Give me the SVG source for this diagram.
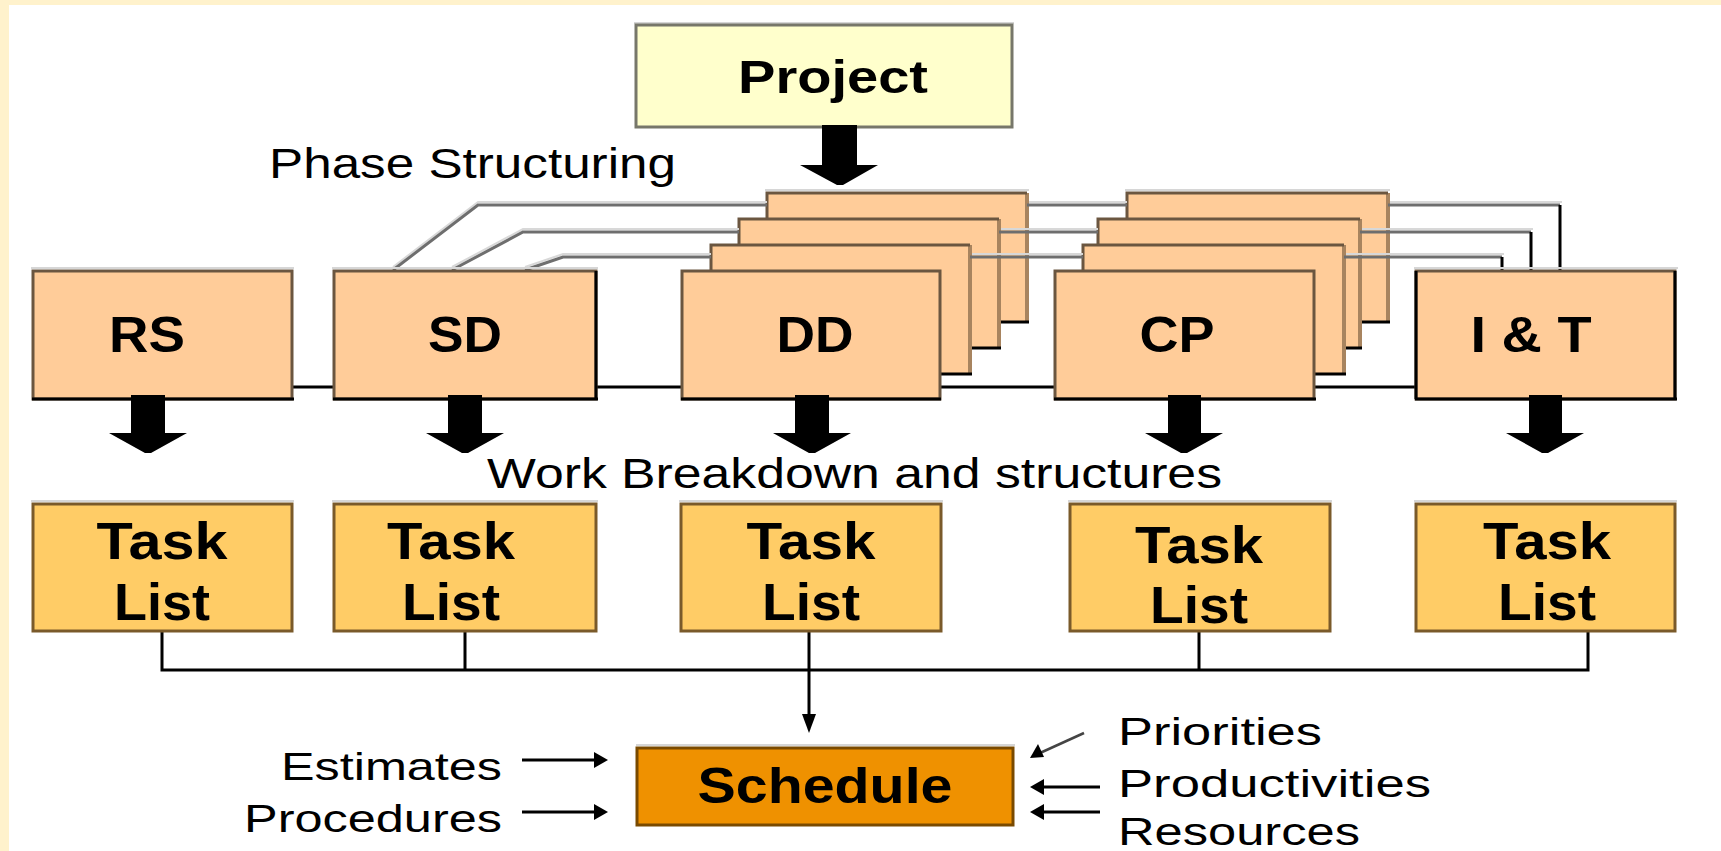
<svg xmlns="http://www.w3.org/2000/svg" width="1721" height="851" viewBox="0 0 1721 851">
<defs>
<style>
.t{font-family:"Liberation Sans",Arial,sans-serif;fill:#000}
.b{font-weight:bold}
.ph{fill:#FFCC99;stroke:#6B5640;stroke-width:3}
.bk{fill:#FFCC99;stroke:none}
.tl{fill:#FFCC66;stroke:#7A5A2A;stroke-width:3}
.hl{stroke:#d6d6d6;stroke-width:2;fill:none}
.gl{stroke:#6E6E6E;stroke-width:3;fill:none}
.gls{stroke:#d8d8d8;stroke-width:2;fill:none}
.bl{stroke:#000;stroke-width:3;fill:none}
.edgeT{stroke:#6B5640;stroke-width:3;fill:none}
.edgeR{stroke:#A8845F;stroke-width:4;fill:none}
.blk{fill:#000}
</style>
</defs>
<rect x="0" y="0" width="1721" height="851" fill="#fff"/>
<rect x="0" y="0" width="1721" height="5" fill="#FFF2CC"/>
<rect x="0" y="0" width="9" height="851" fill="#FFF2CC"/>

<g id="project">
<line class="hl" x1="634" y1="23" x2="1014" y2="23"/>
<rect x="636" y="25" width="376" height="102" fill="#FFFFCC" stroke="#77776A" stroke-width="3"/>
<text class="t b" x="833" y="93" font-size="46" text-anchor="middle" textLength="190" lengthAdjust="spacingAndGlyphs">Project</text>
<polygon class="blk" points="822,125 857,125 857,165 878,165 843,185 837,185 800,165 822,165"/>
</g>

<text id="phase-label" class="t" x="269" y="178" font-size="42" textLength="407" lengthAdjust="spacingAndGlyphs">Phase Structuring</text>

<g id="dd-stack">
<g id="dd-l3">
<line class="hl" x1="765" y1="190" x2="1029" y2="190"/>
<rect class="bk" x="767" y="193" width="260" height="129"/>
<path class="edgeR" d="M1027,193 V322"/>
<path class="edgeT" d="M767,322 V193 H1027"/>
<path class="bl" d="M767,322 H1029"/>
</g>
<g id="dd-l2">
<rect class="bk" x="739" y="219" width="260" height="129"/>
<path class="edgeR" d="M999,219 V348"/>
<path class="edgeT" d="M739,348 V219 H999"/>
<path class="bl" d="M739,348 H1001"/>
</g>
<g id="dd-l1">
<rect class="bk" x="711" y="245" width="259" height="129"/>
<path class="edgeR" d="M970,245 V374"/>
<path class="edgeT" d="M711,374 V245 H970"/>
<path class="bl" d="M711,374 H972"/>
</g>
</g>

<g id="cp-stack">
<g id="cp-l3">
<line class="hl" x1="1125" y1="190" x2="1390" y2="190"/>
<rect class="bk" x="1127" y="193" width="261" height="129"/>
<path class="edgeR" d="M1388,193 V322"/>
<path class="edgeT" d="M1127,322 V193 H1388"/>
<path class="bl" d="M1127,322 H1390"/>
</g>
<g id="cp-l2">
<rect class="bk" x="1098" y="219" width="262" height="129"/>
<path class="edgeR" d="M1360,219 V348"/>
<path class="edgeT" d="M1098,348 V219 H1360"/>
<path class="bl" d="M1098,348 H1362"/>
</g>
<g id="cp-l1">
<rect class="bk" x="1083" y="245" width="261" height="129"/>
<path class="edgeR" d="M1344,245 V374"/>
<path class="edgeT" d="M1083,374 V245 H1344"/>
<path class="bl" d="M1083,374 H1346"/>
</g>
</g>

<g id="connectors">
<g transform="translate(0,-3)">
<path class="gls" d="M393,270 L478,205 H767"/>
<path class="gls" d="M452,270 L523,232 H739"/>
<path class="gls" d="M525,270 L563,257 H711"/>
<path class="gls" d="M1029,205 H1127"/>
<path class="gls" d="M1001,232 H1098"/>
<path class="gls" d="M972,257 H1083"/>
<path class="gls" d="M1390,205 H1562"/>
<path class="gls" d="M1362,232 H1533"/>
<path class="gls" d="M1346,257 H1504"/>
</g>
<path class="gl" d="M393,270 L478,205 H767"/>
<path class="gl" d="M452,270 L523,232 H739"/>
<path class="gl" d="M525,270 L563,257 H711"/>
<path class="gl" d="M1027,205 H1127"/>
<path class="gl" d="M999,232 H1098"/>
<path class="gl" d="M970,257 H1083"/>
<path class="gl" d="M1388,205 H1560"/>
<path class="gl" d="M1360,232 H1531"/>
<path class="gl" d="M1344,257 H1502"/>
<path class="bl" d="M1560,205 V270 M1531,232 V270 M1502,257 V270"/>
<path class="bl" d="M293,387 H333 M597,387 H681 M941,387 H1054 M1315,387 H1415"/>
<path class="bl" d="M162,632 V670 H1588 V632 M465,632 V670 M1199,632 V670"/>
<path class="bl" d="M809,632 V718"/>
<polygon class="blk" points="802,714 816,714 809,733"/>
<line class="bl" x1="522" y1="760" x2="596" y2="760"/>
<polygon class="blk" points="594,752 608,760 594,768"/>
<line class="bl" x1="522" y1="812" x2="596" y2="812"/>
<polygon class="blk" points="594,804 608,812 594,820"/>
<line x1="1084" y1="733" x2="1040" y2="753" stroke="#444" stroke-width="2.5"/>
<polygon class="blk" points="1030,758 1038,744 1044,757"/>
<line class="bl" x1="1100" y1="787" x2="1042" y2="787"/>
<polygon class="blk" points="1044,779 1030,787 1044,795"/>
<line class="bl" x1="1100" y1="812" x2="1042" y2="812"/>
<polygon class="blk" points="1044,804 1030,812 1044,820"/>
</g>

<g id="rs">
<line class="hl" x1="31" y1="268" x2="294" y2="268"/>
<rect class="ph" x="33" y="271" width="259" height="128"/>
<path class="bl" d="M32,399 H294"/>
<text class="t b" x="147" y="352" font-size="50" text-anchor="middle" textLength="76" lengthAdjust="spacingAndGlyphs">RS</text>
<polygon class="blk" points="131,395 165,395 165,433 187,433 151,453 145,453 109,433 131,433"/>
</g>
<g id="sd">
<line class="hl" x1="332" y1="268" x2="598" y2="268"/>
<rect class="ph" x="334" y="271" width="262" height="128"/>
<path class="bl" d="M333,399 H598 M596,271 V399"/>
<text class="t b" x="465" y="352" font-size="50" text-anchor="middle" textLength="74" lengthAdjust="spacingAndGlyphs">SD</text>
<polygon class="blk" points="448,395 482,395 482,433 504,433 468,453 462,453 426,433 448,433"/>
</g>
<g id="dd">
<rect class="ph" x="682" y="271" width="258" height="128"/>
<path class="bl" d="M681,399 H941"/>
<text class="t b" x="815" y="352" font-size="50" text-anchor="middle" textLength="77" lengthAdjust="spacingAndGlyphs">DD</text>
<polygon class="blk" points="795,395 829,395 829,433 851,433 815,453 809,453 773,433 795,433"/>
</g>
<g id="cp">
<rect class="ph" x="1055" y="271" width="259" height="128"/>
<path class="bl" d="M1054,399 H1316"/>
<text class="t b" x="1177" y="352" font-size="50" text-anchor="middle" textLength="75" lengthAdjust="spacingAndGlyphs">CP</text>
<polygon class="blk" points="1168,395 1201,395 1201,433 1223,433 1187,453 1181,453 1145,433 1168,433"/>
</g>
<g id="it">
<line class="hl" x1="1414" y1="268" x2="1678" y2="268"/>
<rect class="ph" x="1416" y="271" width="259" height="128"/>
<path class="bl" d="M1415,399 H1677 M1416,271 V399 M1675,271 V399"/>
<text class="t b" x="1531" y="352" font-size="50" text-anchor="middle" textLength="121" lengthAdjust="spacingAndGlyphs">I &amp; T</text>
<polygon class="blk" points="1529,395 1562,395 1562,433 1584,433 1548,453 1542,453 1506,433 1529,433"/>
</g>

<text id="wbs-label" class="t" x="487" y="488" font-size="43" textLength="735" lengthAdjust="spacingAndGlyphs">Work Breakdown and structures</text>

<g id="tl1">
<line class="hl" x1="31" y1="501" x2="294" y2="501"/>
<rect class="tl" x="33" y="504" width="259" height="127"/>
<text class="t b" x="162" y="559" font-size="52" text-anchor="middle" textLength="131" lengthAdjust="spacingAndGlyphs">Task</text>
<text class="t b" x="162" y="620" font-size="52" text-anchor="middle" textLength="96" lengthAdjust="spacingAndGlyphs">List</text>
</g>
<g id="tl2">
<line class="hl" x1="332" y1="501" x2="598" y2="501"/>
<rect class="tl" x="334" y="504" width="262" height="127"/>
<text class="t b" x="451" y="559" font-size="52" text-anchor="middle" textLength="128" lengthAdjust="spacingAndGlyphs">Task</text>
<text class="t b" x="451" y="620" font-size="52" text-anchor="middle" textLength="98" lengthAdjust="spacingAndGlyphs">List</text>
</g>
<g id="tl3">
<line class="hl" x1="679" y1="501" x2="943" y2="501"/>
<rect class="tl" x="681" y="504" width="260" height="127"/>
<text class="t b" x="811" y="559" font-size="52" text-anchor="middle" textLength="129" lengthAdjust="spacingAndGlyphs">Task</text>
<text class="t b" x="811" y="620" font-size="52" text-anchor="middle" textLength="98" lengthAdjust="spacingAndGlyphs">List</text>
</g>
<g id="tl4">
<line class="hl" x1="1068" y1="501" x2="1332" y2="501"/>
<rect class="tl" x="1070" y="504" width="260" height="127"/>
<text class="t b" x="1199" y="563" font-size="52" text-anchor="middle" textLength="128" lengthAdjust="spacingAndGlyphs">Task</text>
<text class="t b" x="1199" y="623" font-size="52" text-anchor="middle" textLength="98" lengthAdjust="spacingAndGlyphs">List</text>
</g>
<g id="tl5">
<line class="hl" x1="1414" y1="501" x2="1677" y2="501"/>
<rect class="tl" x="1416" y="504" width="259" height="127"/>
<text class="t b" x="1547" y="559" font-size="52" text-anchor="middle" textLength="128" lengthAdjust="spacingAndGlyphs">Task</text>
<text class="t b" x="1547" y="620" font-size="52" text-anchor="middle" textLength="98" lengthAdjust="spacingAndGlyphs">List</text>
</g>

<g id="schedule">
<line class="hl" x1="636" y1="745" x2="1015" y2="745"/>
<rect x="637" y="748" width="376" height="77" fill="#EF9100" stroke="#7A4A00" stroke-width="3"/>
<text class="t b" x="825" y="803" font-size="50" text-anchor="middle" textLength="255" lengthAdjust="spacingAndGlyphs">Schedule</text>
</g>

<g id="inputs">
<text class="t" x="502" y="780" font-size="39" text-anchor="end" textLength="221" lengthAdjust="spacingAndGlyphs">Estimates</text>
<text class="t" x="502" y="832" font-size="39" text-anchor="end" textLength="258" lengthAdjust="spacingAndGlyphs">Procedures</text>
<text class="t" x="1118" y="745" font-size="39" textLength="204" lengthAdjust="spacingAndGlyphs">Priorities</text>
<text class="t" x="1118" y="797" font-size="39" textLength="313" lengthAdjust="spacingAndGlyphs">Productivities</text>
<text class="t" x="1118" y="845" font-size="38" textLength="242" lengthAdjust="spacingAndGlyphs">Resources</text>
</g>
</svg>
